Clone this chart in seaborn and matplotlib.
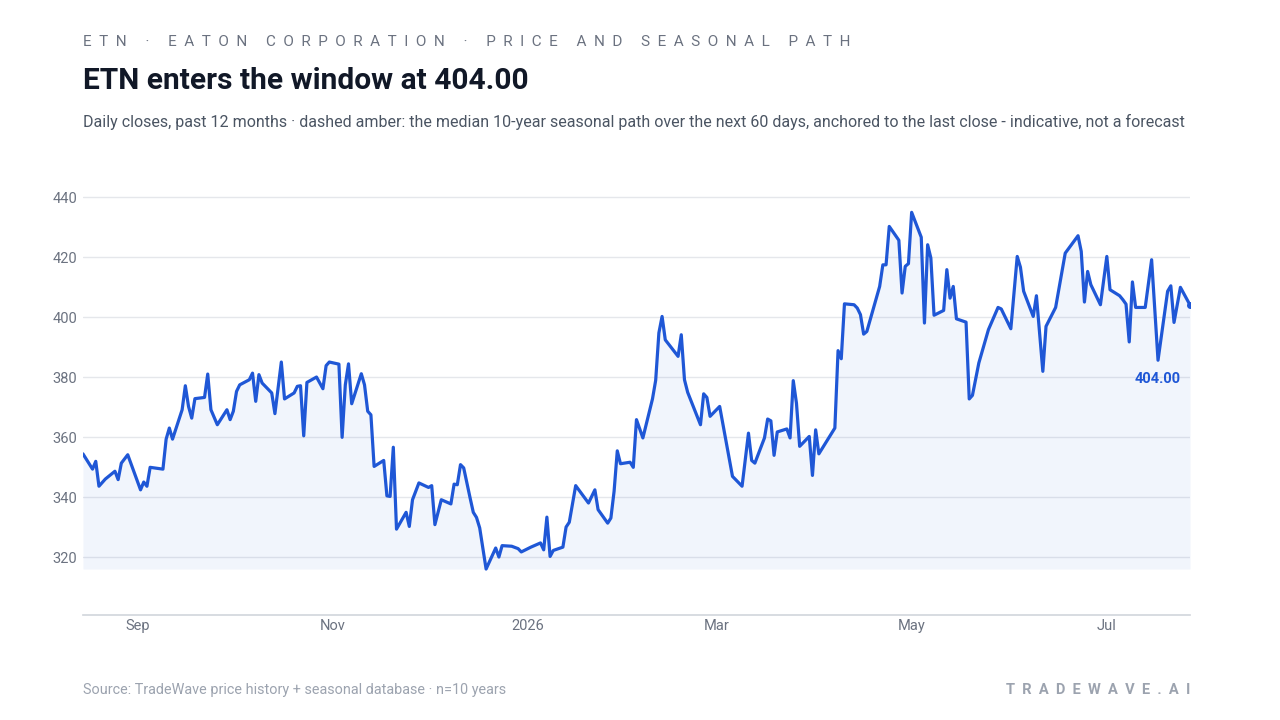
import seaborn as sns
import matplotlib.pyplot as plt
import pandas as pd

dates = [
    '2025-08-15', '2025-08-18', '2025-08-19', '2025-08-20', '2025-08-22', '2025-08-25', '2025-08-26', '2025-08-27',
    '2025-08-29', '2025-09-02', '2025-09-03', '2025-09-04', '2025-09-05', '2025-09-09', '2025-09-10', '2025-09-11',
    '2025-09-12', '2025-09-15', '2025-09-16', '2025-09-17', '2025-09-18', '2025-09-19', '2025-09-22', '2025-09-23',
    '2025-09-24', '2025-09-26', '2025-09-29', '2025-09-30', '2025-10-01', '2025-10-02', '2025-10-03', '2025-10-06',
    '2025-10-07', '2025-10-08', '2025-10-09', '2025-10-10', '2025-10-13', '2025-10-14', '2025-10-16', '2025-10-17',
    '2025-10-20', '2025-10-21', '2025-10-22', '2025-10-23', '2025-10-24', '2025-10-27', '2025-10-29', '2025-10-30',
    '2025-10-31', '2025-11-03', '2025-11-04', '2025-11-05', '2025-11-06', '2025-11-07', '2025-11-10', '2025-11-11',
    '2025-11-12', '2025-11-13', '2025-11-14', '2025-11-17', '2025-11-18', '2025-11-19', '2025-11-20', '2025-11-21',
    '2025-11-24', '2025-11-25', '2025-11-26', '2025-11-28', '2025-12-01', '2025-12-02', '2025-12-03', '2025-12-05',
    '2025-12-08', '2025-12-09', '2025-12-10', '2025-12-11', '2025-12-12', '2025-12-14', '2025-12-15', '2025-12-16',
    '2025-12-17', '2025-12-19', '2025-12-22', '2025-12-23', '2025-12-24', '2025-12-27', '2025-12-29', '2025-12-30',
    '2026-01-02', '2026-01-05', '2026-01-06', '2026-01-07', '2026-01-08', '2026-01-09', '2026-01-12', '2026-01-13',
    '2026-01-14', '2026-01-16', '2026-01-20', '2026-01-22', '2026-01-23', '2026-01-26', '2026-01-27', '2026-01-28',
    '2026-01-29', '2026-01-30', '2026-02-02', '2026-02-03', '2026-02-04', '2026-02-06', '2026-02-09', '2026-02-10',
    '2026-02-11', '2026-02-12', '2026-02-13', '2026-02-17', '2026-02-18', '2026-02-19', '2026-02-20', '2026-02-24',
    '2026-02-25', '2026-02-26', '2026-02-27', '2026-03-02', '2026-03-06', '2026-03-09', '2026-03-11', '2026-03-12',
    '2026-03-13', '2026-03-16', '2026-03-17', '2026-03-18', '2026-03-19', '2026-03-20', '2026-03-23', '2026-03-24',
    '2026-03-25', '2026-03-26', '2026-03-27', '2026-03-30', '2026-03-31', '2026-04-01', '2026-04-02', '2026-04-07',
    '2026-04-08', '2026-04-09', '2026-04-10', '2026-04-13', '2026-04-14', '2026-04-15', '2026-04-16', '2026-04-17',
    '2026-04-21', '2026-04-22', '2026-04-23', '2026-04-24', '2026-04-27', '2026-04-28', '2026-04-29', '2026-04-30',
    '2026-05-01', '2026-05-04', '2026-05-05', '2026-05-06', '2026-05-07', '2026-05-08', '2026-05-11', '2026-05-12',
    '2026-05-13', '2026-05-14', '2026-05-15', '2026-05-18', '2026-05-19', '2026-05-20', '2026-05-22', '2026-05-25',
    '2026-05-28', '2026-05-29', '2026-06-01', '2026-06-03', '2026-06-04', '2026-06-05', '2026-06-08', '2026-06-09',
    '2026-06-11', '2026-06-12', '2026-06-15', '2026-06-18', '2026-06-22', '2026-06-23', '2026-06-24', '2026-06-25',
    '2026-06-26', '2026-06-29', '2026-07-01', '2026-07-02', '2026-07-05', '2026-07-06', '2026-07-07', '2026-07-08',
    '2026-07-09', '2026-07-10', '2026-07-13', '2026-07-15', '2026-07-17', '2026-07-20', '2026-07-21', '2026-07-22',
    '2026-07-24', '2026-07-27',
]

closes = [
    354.4, 349.3, 351.9, 343.6, 346.0, 348.6, 345.8, 351.3,
    354.1, 342.4, 345.0, 343.6, 349.9, 349.3, 359.3, 363.0,
    359.3, 369.1, 377.1, 370.2, 366.3, 372.8, 373.2, 381.0,
    369.1, 364.1, 369.1, 365.8, 368.6, 375.2, 377.4, 379.1,
    381.3, 371.9, 380.8, 378.0, 374.7, 367.8, 385.0, 372.7,
    374.7, 376.9, 377.1, 360.4, 378.2, 380.0, 376.1, 383.8,
    385.0, 384.3, 359.9, 377.4, 384.4, 371.1, 381.1, 377.4,
    368.6, 367.4, 350.2, 352.2, 340.4, 340.2, 356.6, 329.3,
    334.9, 330.2, 339.1, 344.7, 343.2, 343.8, 330.8, 339.1,
    337.7, 344.3, 344.1, 350.8, 349.7, 339.7, 334.9, 333.2,
    329.7, 316.0, 323.0, 320.0, 323.8, 323.6, 322.8, 321.7,
    323.3, 324.7, 322.4, 333.3, 320.2, 322.2, 323.3, 330.0,
    331.6, 343.8, 338.0, 342.4, 335.8, 331.3, 333.0, 341.9,
    355.4, 351.1, 351.6, 349.9, 365.8, 359.7, 372.7, 378.9,
    394.7, 400.2, 392.4, 386.9, 394.1, 379.1, 374.9, 364.1,
    374.4, 373.2, 366.9, 370.2, 346.9, 343.6, 361.3, 352.2,
    351.3, 359.7, 366.0, 365.4, 353.9, 361.7, 362.7, 359.7,
    378.8, 371.3, 356.9, 360.2, 347.2, 362.4, 354.4, 363.0,
    388.8, 386.1, 404.4, 404.1, 403.0, 400.8, 394.3, 395.2,
    410.2, 417.4, 417.4, 430.2, 425.6, 408.0, 416.9, 417.8,
    434.9, 426.6, 398.0, 424.1, 419.7, 400.6, 402.2, 415.8,
    406.3, 410.2, 399.4, 398.3, 372.7, 373.9, 384.7, 395.8,
    403.2, 402.7, 396.1, 420.2, 416.6, 408.6, 400.2, 407.1,
    381.9, 396.9, 403.2, 421.3, 427.1, 421.9, 405.0, 415.2,
    410.8, 404.1, 420.2, 409.1, 407.1, 405.8, 404.3, 391.7,
    411.7, 403.2, 403.2, 419.1, 385.6, 408.6, 410.4, 398.2,
    409.9, 404.0,
]

tick_dates = ['2025-09-01', '2025-11-01', '2026-01-01', '2026-03-01', '2026-05-01', '2026-07-01']
tick_labels = ['Sep', 'Nov', '2026', 'Mar', 'May', 'Jul']
y_ticks = [320, 340, 360, 380, 400, 420, 440]

df = pd.DataFrame({'date': pd.to_datetime(dates), 'close': closes})

sns.set_theme(style='white')
plt.rcParams['font.family'] = ['Roboto', 'DejaVu Sans']

blue = '#1f57d6'
grey = '#6b7280'

fig = plt.figure(figsize=(12.8, 7.2), dpi=100)
ax = fig.add_axes([0.0648, 0.1458, 0.8649, 0.6222])

sns.lineplot(data=df, x='date', y='close', color=blue, linewidth=2.3, ax=ax, zorder=3)
ax.fill_between(df['date'], df['close'], df['close'].min(), color=blue, alpha=0.06, linewidth=0, zorder=1)
ax.plot(df['date'].iloc[-1], df['close'].iloc[-1], 'o', color=blue, markersize=4, zorder=4)

ax.annotate(f"{df['close'].iloc[-1]:.2f}", (df['date'].iloc[-1], df['close'].iloc[-1]),
            xytext=(-9, -74), textcoords='offset pixels', ha='right', va='center',
            fontsize=10.5, fontweight='bold', color=blue)

ax.set_xlim(df['date'].iloc[0], df['date'].iloc[-1])
ax.set_ylim(300.67, 450)
ax.set_yticks(y_ticks)
ax.set_xticks(pd.to_datetime(tick_dates))
ax.set_xticklabels(tick_labels)
ax.tick_params(axis='both', length=0, labelsize=10.5, labelcolor=grey)
ax.tick_params(axis='y', pad=4)
ax.tick_params(axis='x', pad=3)
ax.set_xlabel('')
ax.set_ylabel('')
ax.grid(axis='y', color='#e5e7eb', linewidth=1)
ax.grid(axis='x', visible=False)
for side in ['top', 'right', 'left']:
    ax.spines[side].set_visible(False)
ax.spines['bottom'].set_color('#d1d5db')
ax.spines['bottom'].set_linewidth(1.2)

# letter-spaced caps
header = '  '.join('ETN · EATON CORPORATION · PRICE AND SEASONAL PATH')
fig.text(0.0648, 0.942, header, fontsize=11, color=grey, ha='left', va='center')
fig.text(0.0648, 0.887, 'ETN enters the window at 404.00', fontsize=21.5, fontweight='bold',
         color='#111827', ha='left', va='center')
fig.text(0.0648, 0.831,
         'Daily closes, past 12 months · dashed amber: the median 10-year seasonal path over the next 60 days, '
         'anchored to the last close - indicative, not a forecast',
         fontsize=11.5, color='#4b5563', ha='left', va='center')
fig.text(0.0648, 0.0417, 'Source: TradeWave price history + seasonal database · n=10 years',
         fontsize=10.4, color='#9ca3af', ha='left', va='center')
fig.text(0.9297, 0.0417, '  '.join('TRADEWAVE.AI'), fontsize=10.5, fontweight='bold',
         color='#9ca3af', ha='right', va='center')

fig.savefig('out.png', dpi=100)
